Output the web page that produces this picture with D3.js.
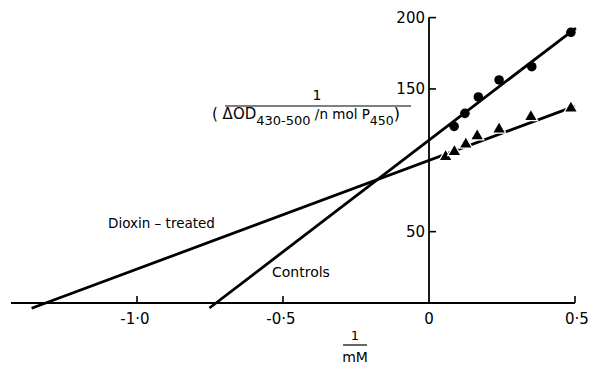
<!DOCTYPE html>
<html><head><meta charset="utf-8">
<script src="https://cdn.jsdelivr.net/npm/d3@7"></script>
<style>body{margin:0;background:#fff}svg{display:block}text{font-family:"DejaVu Sans",sans-serif;fill:#000}</style>
</head><body><svg id="c" width="589" height="371"></svg>
<script>
// Data (1/[S] in 1/mM, 1/(ΔOD per nmol P450))
const controlsX = [0.086, 0.123, 0.169, 0.240, 0.352, 0.486];
const controlsY = [123.8, 132.9, 144.4, 156.3, 165.6, 189.7];
const dioxinX = [0.057, 0.087, 0.126, 0.165, 0.240, 0.349, 0.486];
const dioxinY = [102.5, 106.0, 111.2, 117.0, 121.7, 130.6, 136.4];
// Fitted line end points [x, y]
const controlsLine = [[-0.752, -3.5], [0.503, 192.7]];
const dioxinLine = [[-1.361, -3.7], [0.50, 138.0]];
const xTicks = [-1.0, -0.5, 0.5];
const xTickLabels = ["-1·0", "-0·5", "0·5"];
const yTicks = [50, 150, 200];
const yTickLabels = ["50", "150", "200"];

const svg = d3.select("#c");
const x = d3.scaleLinear().domain([0, 0.5]).range([429, 575]);
const y = d3.scaleLinear().domain([0, 200]).range([303, 17.6]);

// X axis
svg.append("line").attr("x1", 11).attr("x2", 575).attr("y1", y(0)).attr("y2", y(0))
  .attr("stroke", "#000").attr("stroke-width", 1.8);
svg.selectAll(".xt").data(xTicks).enter().append("line")
  .attr("x1", d => x(d)).attr("x2", d => x(d)).attr("y1", y(0)).attr("y2", y(0) - 7)
  .attr("stroke", "#000").attr("stroke-width", 1.6);
svg.selectAll(".xl").data(xTicks).enter().append("text")
  .attr("x", d => x(d) + (d < 0 ? -2 : 2)).attr("y", 324).attr("text-anchor", "middle")
  .attr("font-size", 15).text((d, i) => xTickLabels[i]);
svg.append("text").attr("x", x(0)).attr("y", 324).attr("text-anchor", "middle")
  .attr("font-size", 15).text("0");

// Y axis
svg.append("line").attr("x1", x(0)).attr("x2", x(0)).attr("y1", y(0)).attr("y2", y(200))
  .attr("stroke", "#000").attr("stroke-width", 1.8);
svg.selectAll(".yt").data(yTicks).enter().append("line")
  .attr("x1", x(0)).attr("x2", x(0) + 7).attr("y1", d => y(d)).attr("y2", d => y(d))
  .attr("stroke", "#000").attr("stroke-width", 1.6);
svg.selectAll(".yl").data(yTicks).enter().append("text")
  .attr("x", x(0) - 4).attr("y", d => y(d) + 5.5).attr("text-anchor", "end")
  .attr("font-size", 15).text((d, i) => yTickLabels[i]);

// Fitted lines
const line = d3.line().x(d => x(d[0])).y(d => y(d[1]));
[controlsLine, dioxinLine].forEach(l => {
  svg.append("path").attr("d", line(l)).attr("fill", "none")
    .attr("stroke", "#000").attr("stroke-width", 2.8);
});

// Points
svg.selectAll(".cp").data(controlsX).enter().append("circle")
  .attr("cx", d => x(d)).attr("cy", (d, i) => y(controlsY[i])).attr("r", 4.8).attr("fill", "#000");
const tri = d3.symbol().type(d3.symbolTriangle).size(55);
svg.selectAll(".dp").data(dioxinX).enter().append("path")
  .attr("d", tri).attr("transform", (d, i) => `translate(${x(d)},${y(dioxinY[i])})`)
  .attr("fill", "#000").attr("stroke", "#fff").attr("stroke-width", 2.5).attr("paint-order", "stroke");

// Labels
svg.append("text").attr("x", 108).attr("y", 228).attr("font-size", 13.5).text("Dioxin – treated");
svg.append("text").attr("x", 272).attr("y", 277).attr("font-size", 14).text("Controls");

// Y label fraction
svg.append("text").attr("x", 317).attr("y", 100).attr("text-anchor", "middle").attr("font-size", 14).text("1");
svg.append("line").attr("x1", 225).attr("x2", 411).attr("y1", 106).attr("y2", 106)
  .attr("stroke", "#000").attr("stroke-width", 1.2);
const den = svg.append("text").attr("x", 212).attr("y", 119).attr("font-size", 15);
den.append("tspan").text("( ΔOD");
den.append("tspan").attr("dy", 6).attr("font-size", 13).text("430-500");
den.append("tspan").attr("dy", -6).attr("font-size", 13.5).text(" /n mol P");
den.append("tspan").attr("dy", 6).attr("font-size", 12.5).text("450");
den.append("tspan").attr("dy", -6).attr("font-size", 16).text(")");

// X label fraction
svg.append("text").attr("x", 355).attr("y", 340).attr("text-anchor", "middle").attr("font-size", 13).text("1");
svg.append("line").attr("x1", 343).attr("x2", 367).attr("y1", 345).attr("y2", 345)
  .attr("stroke", "#000").attr("stroke-width", 1.2);
svg.append("text").attr("x", 355).attr("y", 362).attr("text-anchor", "middle").attr("font-size", 14).text("mM");
</script></body></html>
